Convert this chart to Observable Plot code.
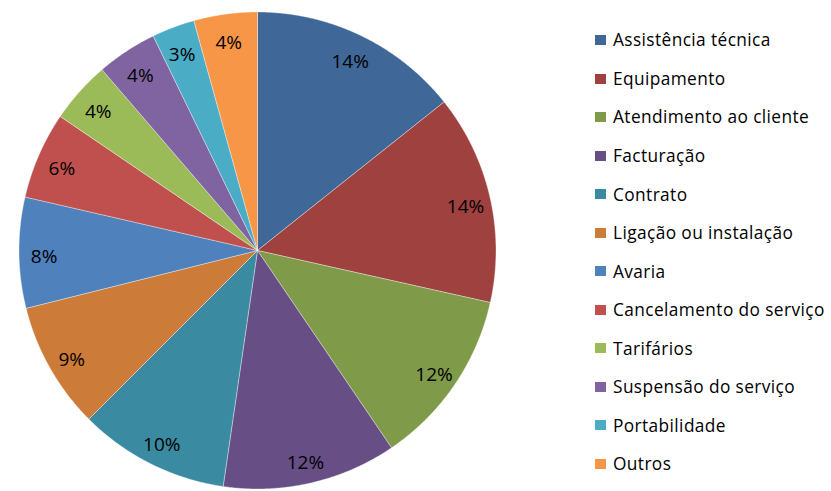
<!DOCTYPE html>
<html>
<head>
<meta charset="utf-8">
<script src="https://cdn.jsdelivr.net/npm/d3@7"></script>
<script src="https://cdn.jsdelivr.net/npm/@observablehq/plot@0.6"></script>
<style>
  html, body { margin: 0; padding: 0; background: #fff; }
  #wrap { position: relative; width: 831px; height: 491px; font-family: "Open Sans", Lato, sans-serif; }
  #chart { position: absolute; left: 0; top: 0; }
  #legend { position: absolute; left: 595px; top: 20.7px; }
  .item { display: flex; align-items: center; height: 38.55px; font-size: 17.3px; letter-spacing: 0.4px; line-height: 1; color: #000; white-space: nowrap; }
  .sw { width: 11px; height: 10px; margin-right: 7px; flex: none; }
</style>
</head>
<body>
<div id="wrap"><div id="chart"></div><div id="legend"></div></div>
<script>
const categories = ["Assistência técnica","Equipamento","Atendimento ao cliente","Facturação","Contrato","Ligação ou instalação","Avaria","Cancelamento do serviço","Tarifários","Suspensão do serviço","Portabilidade","Outros"];
const values = [14.3, 14.2, 12.0, 11.8, 10.2, 8.6, 7.5, 5.9, 4.2, 4.1, 2.9, 4.3];
const colors = ["#3F6899","#9E413F","#7F9A48","#674F86","#3A8BA1","#CD7B38","#4F81BD","#C0504D","#9BBB59","#8064A2","#4BACC6","#F79646"];

const total = d3.sum(values);
const arcs = d3.pie().sort(null).value(d => d.value)(categories.map((c, i) => ({category: c, value: values[i]})));
const poly = [];
for (const a of arcs) {
  const c = a.data.category;
  poly.push({category: c, x: 0, y: 0});
  const n = Math.max(4, Math.ceil((a.endAngle - a.startAngle) / 0.004));
  for (let k = 0; k <= n; k++) {
    const t = a.startAngle + (a.endAngle - a.startAngle) * k / n;
    poly.push({category: c, x: Math.sin(t), y: Math.cos(t)});
  }
  poly.push({category: c, x: 0, y: 0});
}
const labelR = 0.895;
const labels = arcs.map(a => {
  const m = (a.startAngle + a.endAngle) / 2;
  return {category: a.data.category, x: labelR * Math.sin(m), y: labelR * Math.cos(m), text: Math.round(a.data.value / total * 100) + "%"};
});

const R = 238.5, cx = 257, cy = 250, W = 590, H = 491;
const chart = Plot.plot({
  width: W, height: H,
  marginLeft: cx - R, marginRight: W - cx - R,
  marginTop: cy - R, marginBottom: H - cy - R,
  x: {domain: [-1, 1], axis: null},
  y: {domain: [-1, 1], axis: null},
  color: {domain: categories, range: colors},
  style: {fontFamily: "'Open Sans', Lato, sans-serif", fontSize: "19px"},
  marks: [
    Plot.line(poly, {x: "x", y: "y", z: "category", fill: "category", stroke: "#ffffff", strokeWidth: 0.6, strokeOpacity: 0.6, curve: "linear"}),
    Plot.text(labels, {x: "x", y: "y", text: "text", fontSize: 19, dy: 4, fill: "#000"})
  ]
});
document.getElementById("chart").appendChild(chart);

const color = chart.scale("color");
const legend = document.getElementById("legend");
for (const c of categories) {
  const it = document.createElement("div");
  it.className = "item";
  const sw = document.createElement("span");
  sw.className = "sw";
  sw.style.background = colors[color.domain.indexOf(c)];
  const tx = document.createElement("span");
  tx.textContent = c;
  it.appendChild(sw); it.appendChild(tx);
  legend.appendChild(it);
}
</script>
</body>
</html>
